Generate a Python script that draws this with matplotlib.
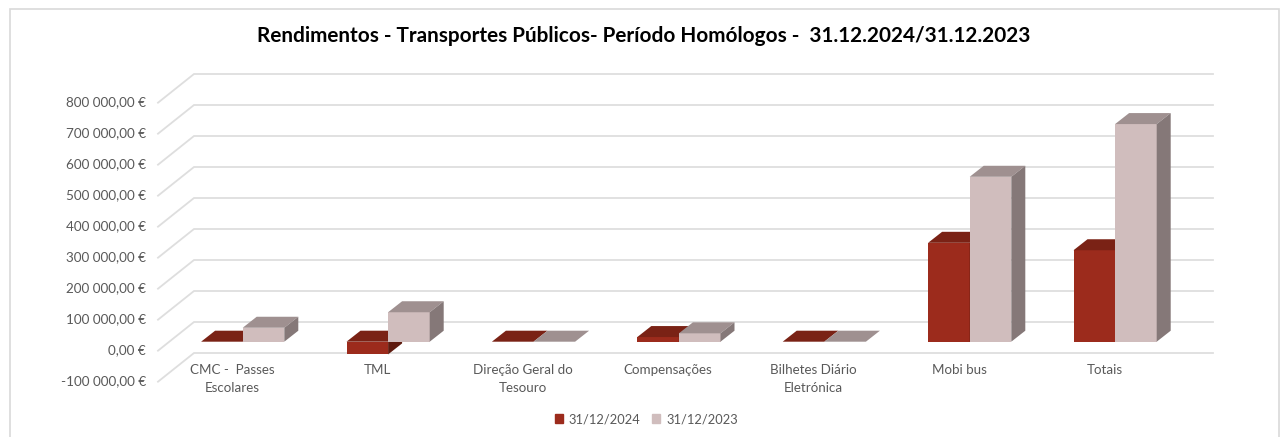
import matplotlib
matplotlib.use("Agg")
import matplotlib.pyplot as plt
from matplotlib.patches import Patch, Rectangle
from matplotlib.transforms import ScaledTranslation

categories = ["CMC -  Passes\nEscolares", "TML", "Direção Geral do\nTesouro", "Compensações",
              "Bilhetes Diário\nEletrónica", "Mobi bus", "Totais"]
values_2024 = [0, -41000, 0, 15000, 0, 319000, 295000]
values_2023 = [45000, 95000, 0, 27000, 0, 532000, 702000]
series_names = ["31/12/2024", "31/12/2023"]
y_ticks = [-100000, 0, 100000, 200000, 300000, 400000, 500000, 600000, 700000, 800000]

W, H = 1283, 437
CAT_PX = 145.4
VAL_PX = 31 / 100000

plt.rcParams['font.family'] = ['Lato', 'DejaVu Sans']


def money(v):
    s = f"{abs(v):,.2f}".replace(",", " ").replace(".", ",")
    return ("-" if v < 0 else "") + s + " €"


def draw_bar(ax, x, v, colors):
    front, top, side = colors
    # bars stand a little behind the front plane of the floor
    ax.bar(x, v, width=BAR_W, bottom=LIFT, align='edge', color=front, zorder=3)
    hi = max(v, 0) + LIFT
    lo = min(v, 0) + LIFT
    ax.fill([x, x + BAR_W, x + BAR_W + BAR_DX, x + BAR_DX], [hi, hi, hi + BAR_DY, hi + BAR_DY],
            color=top, lw=0, zorder=3)
    ax.fill([x + BAR_W, x + BAR_W + BAR_DX, x + BAR_W + BAR_DX, x + BAR_W],
            [lo, lo + BAR_DY, hi + BAR_DY, hi], color=side, lw=0, zorder=3)


fig = plt.figure(figsize=(W / 100, H / 100), dpi=100)
ax = fig.add_axes([158 / W, 1 - 381.7 / H, (1213 - 158) / W, 279 / H])
ax.patch.set_alpha(0)
ax.set_xlim((158 - 242.7) / CAT_PX, (1213 - 242.7) / CAT_PX)
ax.set_ylim(-100000, 800000)

BAR_W = 41.6 / CAT_PX
BAR_DX = 14 / CAT_PX
BAR_DY = 11 / VAL_PX
LIFT = 9 / VAL_PX
WALL_DX = 36 / CAT_PX
WALL_DY = 28.7 / VAL_PX

x0, x1 = ax.get_xlim()
for t in y_ticks:
    ax.plot([x0, x0 + WALL_DX, x1], [t, t + WALL_DY, t + WALL_DY], color="#dedede", lw=1.3,
            clip_on=False, zorder=1, solid_joinstyle='miter')

c_2024 = ("#9c2b1c", "#7a2215", "#5e1a0e")
c_2023 = ("#d0bdbd", "#9f9090", "#857878")
for i in range(len(categories)):
    draw_bar(ax, i - BAR_W, values_2024[i], c_2024)
    draw_bar(ax, i, values_2023[i], c_2023)

for s in ax.spines.values():
    s.set_visible(False)
ax.set_yticks(y_ticks)
ax.set_yticklabels([money(t) for t in y_ticks])
ax.set_xticks([i - 0.074 for i in range(len(categories))])
ax.set_xticklabels(categories, linespacing=1.65)
ax.tick_params(axis='y', length=0, pad=8.5, labelsize=9.7, labelcolor="#595959")
ax.tick_params(axis='x', length=0, pad=-12.8, labelsize=9.6, labelcolor="#595959")
# y labels sit a bit above their gridline ends
nudge = ScaledTranslation(0, 1.5 / 100, fig.dpi_scale_trans)
for lab in ax.get_yticklabels():
    lab.set_transform(lab.get_transform() + nudge)

fig.add_artist(Rectangle((9.5 / W, -0.02), (1278.5 - 9.5) / W, 1.02 - 9 / H, fill=False,
                         ec="#d9d9d9", lw=1.2, transform=fig.transFigure))
fig.text(643.5 / W, 1 - 35.5 / H, "Rendimentos - Transportes Públicos- Período Homólogos -  31.12.2024/31.12.2023",
         ha='center', va='center', fontsize=14.95, fontweight='bold', color="black")

handles = [Patch(color=c_2024[0], label=series_names[0]), Patch(color=c_2023[0], label=series_names[1])]
fig.legend(handles=handles, loc='center', bbox_to_anchor=(646.5 / W, 1 - 419 / H), ncol=2, frameon=False,
           fontsize=9.3, labelcolor="#595959", handlelength=0.62, handleheight=0.62,
           handletextpad=0.45, columnspacing=0.9, borderpad=0)

fig.savefig("out.png", dpi=100)
